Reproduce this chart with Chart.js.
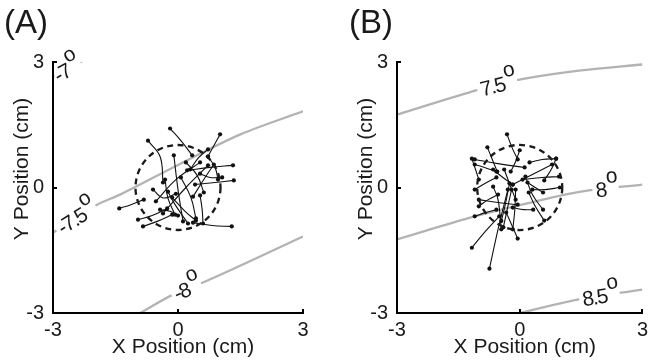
<!DOCTYPE html>
<html>
<head>
<meta charset="utf-8">
<script src="https://cdn.jsdelivr.net/npm/chart.js@4"></script>
<style>
  html, body { margin: 0; padding: 0; background: #fff; }
  #wrap { position: relative; width: 653px; height: 364px; overflow: hidden; }
  .panel { position: absolute; top: 0; }
</style>
</head>
<body>
<div id="wrap">
  <div class="panel" style="left:0"><canvas id="chartA" width="326" height="364"></canvas></div>
  <div class="panel" style="left:326px"><canvas id="chartB" width="327" height="364"></canvas></div>
</div>
<script>
// Axis ticks (cm)
const xTicks = [-3, 0, 3];
const yTicks = [-3, 0, 3];

// Panel A: individual trajectories, each [start, middle, end] in cm
const trajA = [
  [[-0.19, 1.41], [0.07, 1.12], [0.34, 0.77]],
  [[1.01, 1.27], [0.86, 1.00], [0.72, 0.74]],
  [[-0.72, 1.12], [-0.43, 0.74], [-0.36, 0.12]],
  [[1.32, 0.53], [0.77, 0.48], [0.22, 0.41]],
  [[1.34, 0.17], [0.89, 0.12], [0.41, 0.07]],
  [[1.29, -0.93], [0.82, -0.91], [0.36, -0.84]],
  [[-1.41, -0.50], [-1.13, -0.41], [-0.82, -0.29]],
  [[-0.96, -0.77], [-0.62, -0.67], [-0.26, -0.50]],
  [[-0.84, -0.93], [-0.50, -0.81], [-0.14, -0.65]],
  [[-0.10, 0.77], [0.00, -0.05], [0.12, -0.81]],
  [[-0.53, -0.33], [-0.05, 0.19], [0.53, 0.60]],
  [[-0.36, -0.62], [0.19, 0.00], [0.72, 0.53]],
  [[-0.14, -0.24], [0.17, -0.57], [0.43, -0.79]],
  [[0.19, 0.60], [0.46, 0.29], [0.62, -0.12]],
  [[0.53, -0.19], [0.58, -0.53], [0.60, -0.86]],
  [[0.72, 0.74], [0.89, 0.48], [0.96, 0.19]],
  [[-0.24, -0.10], [-0.07, -0.41], [0.24, -0.86]],
  [[0.07, 0.24], [0.31, -0.24], [0.43, -0.74]],
  [[0.29, 0.43], [0.50, 0.72], [0.72, 0.91]],
  [[-0.31, 0.19], [-0.24, -0.26], [-0.07, -0.65]],
  [[-0.43, -0.53], [-0.19, -0.57], [0.00, -0.67]],
  [[0.36, -0.22], [0.65, 0.24], [0.86, 0.55]],
  [[0.53, 0.33], [0.77, 0.24], [1.06, 0.24]],
  [[-0.60, -0.05], [-0.35, -0.25], [-0.05, -0.15]]
];

// Panel B: individual trajectories, each [start, middle, end] in cm
const trajB = [
  [[-0.31, 1.27], [-0.19, 0.96], [-0.05, 0.67]],
  [[-0.79, 0.96], [-0.67, 0.67], [-0.55, 0.38]],
  [[0.00, 0.89], [-0.10, 0.62], [-0.22, 0.38]],
  [[-1.17, 0.69], [-1.08, 0.43], [-1.00, 0.19]],
  [[0.89, 0.69], [0.55, 0.67], [0.24, 0.60]],
  [[0.89, 0.69], [0.77, 0.43], [0.60, 0.17]],
  [[0.96, 0.26], [0.55, 0.24], [0.07, 0.19]],
  [[0.57, -0.12], [0.38, 0.00], [0.19, 0.12]],
  [[-1.10, -0.05], [-0.84, 0.10], [-0.57, 0.24]],
  [[-1.10, -0.69], [-0.84, -0.60], [-0.57, -0.53]],
  [[-1.17, -1.44], [-0.84, -1.05], [-0.50, -0.69]],
  [[-0.74, -1.94], [-0.53, -1.00], [-0.29, -0.05]],
  [[-0.05, -1.22], [-0.19, -0.91], [-0.33, -0.60]],
  [[-0.17, -1.00], [-0.12, -0.53], [-0.10, -0.05]],
  [[0.60, -0.79], [0.38, -0.45], [0.22, -0.12]],
  [[0.33, -0.53], [0.10, -0.53], [-0.17, -0.48]],
  [[-1.00, -0.45], [-0.77, -0.29], [-0.53, -0.17]],
  [[-0.17, 0.07], [-0.41, 0.24], [-0.65, 0.43]],
  [[-0.57, 0.38], [-0.86, 0.48], [-1.10, 0.55]],
  [[-1.10, 0.67], [-0.53, 0.57], [0.12, 0.48]],
  [[-0.17, 0.07], [0.31, 0.31], [0.79, 0.55]],
  [[-1.00, -0.29], [-0.53, -0.36], [-0.05, -0.41]],
  [[0.14, 0.26], [0.31, -0.17], [0.57, -0.53]],
  [[-0.38, 0.43], [-0.24, 0.07], [-0.10, -0.29]],
  [[-0.65, 0.02], [-0.53, -0.29], [-0.45, -1.00]],
  [[0.98, 0.00], [0.62, -0.05], [0.31, -0.05]],
  [[-0.45, -0.80], [-0.35, -0.40], [-0.25, 0.10]],
  [[-0.40, -0.95], [-0.30, -0.50], [-0.20, -0.05]]
];

// Iso-angle contours (cm)
const contoursA = [
  [[-3.00, 2.63], [-2.30, 3.02]],
  [[-3.00, -1.08], [-1.94, -0.41], [-1.39, -0.17], [0.00, 0.54], [1.50, 1.27], [3.00, 1.82]],
  [[-0.91, -3.00], [-0.12, -2.56], [0.60, -2.27], [3.00, -1.17]]
];
const contoursB = [
  [[-3.00, 1.74], [-1.00, 2.34], [-0.10, 2.56], [1.50, 2.80], [3.00, 2.94]],
  [[-3.00, -1.24], [-1.10, -0.69], [0.00, -0.42], [1.50, -0.10], [3.00, 0.07]],
  [[0.00, -3.00], [1.41, -2.68], [3.00, -2.44]]
];

// Contour labels (degrees) and where along x each sits (cm)
const contourTextA = ['-7', '-7.5', '-8'];
const contourLabelXA = [-2.68, -2.45, 0.20];
const contourTextB = ['7.5', '8', '8.5'];
const contourLabelXB = [-0.55, 2.10, 1.95];

// Target zone radius (cm), centred on the origin
const targetRadiusA = 1.02;
const targetRadiusB = 1.04;

const FONT = '"Liberation Sans", Arial, Helvetica, sans-serif';
const H = 364;

function pointsOf(arr) { return arr.map(([x, y]) => ({ x, y })); }

function contourYAt(c, xv) {
  for (let i = 0; i < c.length - 1; i++) {
    if (xv >= c[i][0] && xv <= c[i + 1][0]) {
      const t = (xv - c[i][0]) / (c[i + 1][0] - c[i][0]);
      return { y: c[i][1] + t * (c[i + 1][1] - c[i][1]), i };
    }
  }
  return { y: c[c.length - 1][1], i: c.length - 2 };
}

function decorPlugin(o) {
  return {
    id: 'decor',
    afterDatasetsDraw(chart) {
      const { ctx, chartArea: a, scales: { x, y } } = chart;
      // dashed target circle
      ctx.save();
      const cx = x.getPixelForValue(0), cy = y.getPixelForValue(0);
      const r = x.getPixelForValue(o.radius) - cx;
      ctx.beginPath();
      ctx.arc(cx, cy, r, 0, Math.PI * 2);
      ctx.setLineDash([6, 4.5]);
      ctx.lineWidth = 2.3;
      ctx.strokeStyle = '#1a1a1a';
      ctx.stroke();
      ctx.restore();

      // contour labels with raised "o" degree mark, kept right of the y axis
      const fs = 21;
      o.labelText.forEach((txt, k) => {
        const c = o.contours[k];
        const xv = o.labelX[k];
        const { y: yv, i } = contourYAt(c, xv);
        const p0x = x.getPixelForValue(c[i][0]), p0y = y.getPixelForValue(c[i][1]);
        const p1x = x.getPixelForValue(c[i + 1][0]), p1y = y.getPixelForValue(c[i + 1][1]);
        const ang = Math.atan2(p1y - p0y, p1x - p0x);
        const px = x.getPixelForValue(xv), py = y.getPixelForValue(yv);
        ctx.save();
        ctx.beginPath();
        ctx.rect(a.left + 1.5, 0, chart.width, a.bottom - 1.5);
        ctx.clip();
        ctx.font = fs + 'px ' + FONT;
        ctx.letterSpacing = '-1.5px';
        const wT = ctx.measureText(txt).width;
        const wO = ctx.measureText('o').width;
        const w = wT + wO;
        const capH = fs * 0.716;
        ctx.translate(px, py);
        ctx.rotate(ang);
        ctx.fillStyle = '#fff';
        ctx.fillRect(-w / 2 - 3, -capH / 2 - 3, w + 6, capH + 6);
        ctx.fillStyle = '#1a1a1a';
        ctx.textBaseline = 'alphabetic';
        ctx.textAlign = 'left';
        ctx.fillText(txt, -w / 2, capH / 2);
        ctx.fillText('o', -w / 2 + wT + 1.5, capH / 2 - fs * 0.62);
        ctx.restore();
      });
    },
    afterDraw(chart) {
      const { ctx, chartArea: a, scales: { x, y } } = chart;
      ctx.save();
      // inward tick marks
      ctx.strokeStyle = '#000';
      ctx.lineWidth = 2;
      xTicks.forEach(v => {
        const px = Math.round(x.getPixelForValue(v));
        ctx.beginPath(); ctx.moveTo(px, a.bottom); ctx.lineTo(px, a.bottom - 4); ctx.stroke();
      });
      yTicks.forEach(v => {
        const py = Math.round(y.getPixelForValue(v));
        ctx.beginPath(); ctx.moveTo(a.left, py); ctx.lineTo(a.left + 4, py); ctx.stroke();
      });
      // axis titles
      ctx.fillStyle = '#1a1a1a';
      ctx.font = '21px ' + FONT;
      ctx.textAlign = 'center';
      ctx.textBaseline = 'alphabetic';
      ctx.fillText('X Position (cm)', (a.left + a.right) / 2 + 5, 353);
      ctx.save();
      ctx.translate(a.left - 25, 169);
      ctx.rotate(-Math.PI / 2);
      ctx.fillText('Y Position (cm)', 0, 0);
      ctx.restore();
      // panel letter
      ctx.textAlign = 'left';
      ctx.font = '33px ' + FONT;
      ctx.fillText(o.letter, o.letterX, 33);
      ctx.restore();
    }
  };
}

function buildPanel(canvasId, plot, traj, contours, labelText, labelX, radius, letter, letterX) {
  const canvas = document.getElementById(canvasId);
  const W = canvas.width;
  const datasets = [];
  traj.forEach(p => {
    datasets.push({
      type: 'scatter',
      data: pointsOf(p),
      showLine: true,
      tension: 0.4,
      borderColor: '#111',
      borderWidth: 1.1,
      pointRadius: [2.1, 0, 2.1],
      pointBackgroundColor: '#111',
      pointBorderWidth: 0,
      order: 1
    });
  });
  contours.forEach(c => {
    datasets.push({
      type: 'scatter',
      data: pointsOf(c),
      showLine: true,
      cubicInterpolationMode: 'monotone',
      borderColor: '#b3b3b3',
      borderWidth: 2.3,
      pointRadius: 0,
      order: 2
    });
  });
  const tickFont = { family: FONT, size: 20 };
  return new Chart(canvas, {
    type: 'scatter',
    data: { datasets },
    options: {
      responsive: false,
      animation: false,
      events: [],
      layout: { padding: { top: plot.top, right: W - plot.right, left: 0, bottom: 0 } },
      plugins: { legend: { display: false }, tooltip: { enabled: false } },
      scales: {
        x: {
          type: 'linear', min: -3, max: 3,
          afterBuildTicks: s => { s.ticks = xTicks.map(v => ({ value: v })); },
          afterFit: s => { s.height = H - plot.bottom; },
          grid: { display: false, drawTicks: false },
          border: { display: true, color: '#000', width: 2, z: 1 },
          ticks: { z: 1, color: '#1a1a1a', font: tickFont, padding: 5, maxRotation: 0, autoSkip: false, callback: v => String(v) }
        },
        y: {
          type: 'linear', min: -3, max: 3,
          afterBuildTicks: s => { s.ticks = yTicks.map(v => ({ value: v })); },
          afterFit: s => { s.width = plot.left; },
          grid: { display: false, drawTicks: false },
          border: { display: true, color: '#000', width: 2, z: 1 },
          ticks: { z: 1, color: '#1a1a1a', font: tickFont, padding: 9, autoSkip: false, callback: v => String(v) }
        }
      }
    },
    plugins: [decorPlugin({ contours, labelText, labelX, radius, letter, letterX })]
  });
}

buildPanel('chartA', { left: 53, right: 303, top: 62, bottom: 313 },
  trajA, contoursA, contourTextA, contourLabelXA, targetRadiusA, '(A)', 4);
buildPanel('chartB', { left: 71, right: 322, top: 62, bottom: 313 },
  trajB, contoursB, contourTextB, contourLabelXB, targetRadiusB, '(B)', 23);
</script>
</body>
</html>
